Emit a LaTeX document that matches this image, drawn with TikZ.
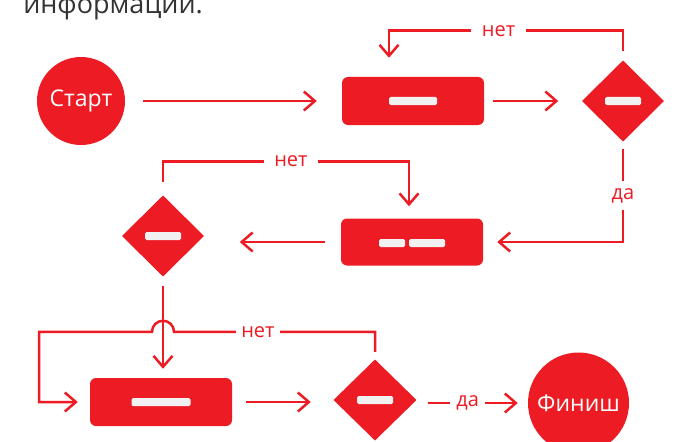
\documentclass[tikz,border=0pt]{standalone}
\usepackage{fontspec}
\setmainfont{Open Sans}
\usetikzlibrary{shapes.geometric,arrows.meta}
\definecolor{flowred}{HTML}{ED1C24}
\definecolor{barfill}{HTML}{F1F1F2}
\definecolor{headtext}{HTML}{333333}

\begin{document}
\begin{tikzpicture}[x=1pt, y=-1pt, line width=2.5pt,
    flow/.style={draw=flowred, -{Straight Barb[length=11pt,width=19pt]}},
    term/.style={circle, fill=flowred, text=white, inner sep=0pt, font=\fontsize{23}{27}\selectfont},
    proc/.style={rectangle, rounded corners=6pt, fill=flowred, minimum width=142pt, minimum height=48pt},
    cond/.style={diamond, fill=flowred, inner sep=0pt, minimum width=83pt, minimum height=82pt},
    bar/.style={rectangle, fill=barfill, rounded corners=1.5pt, inner sep=0pt, minimum height=8pt},
    lbl/.style={fill=white, text=flowred, inner xsep=10.5pt, inner ysep=6pt, font=\fontsize{20}{24}\selectfont}]
            \useasboundingbox (0,0) rectangle (676,441);
            \clip (0,0) rectangle (676,441);
            \node[anchor=base west, text=headtext, inner sep=0pt, font=\fontsize{27}{32}\selectfont] (head) at (22,13.5) {информации.};

            \node[term, minimum size=88pt] (start) at (81,101) {Старт};
            \node[proc] (box1) at (413,101) {};
            \node[bar, minimum width=48pt] (bar1) at (box1) {};
            \node[cond] (dec1) at (623,101) {};
            \node[bar, minimum width=36pt] (bar2) at (dec1) {};
            \node[proc, minimum height=47pt] (box2) at (412,242) {};
            \node[bar, minimum width=26pt] (bar3) at (392,243) {};
            \node[bar, minimum width=36pt] (bar4) at (427,243) {};
            \node[cond] (dec2) at (163,236) {};
            \node[bar, minimum width=36pt] (bar5) at (dec2) {};
            \node[proc] (box3) at (161,402) {};
            \node[bar, minimum width=59pt] (bar6) at (box3) {};
            \node[cond, minimum width=84pt] (dec3) at (375,400) {};
            \node[bar, minimum width=36pt] (bar7) at (dec3) {};
            \node[term, minimum size=101pt] (fin) at (578.5,403) {Финиш};

            \draw[flow, shorten <=17pt, shorten >=24pt] (start) -- (box1);
            \draw[flow, shorten <=8pt, shorten >=22pt] (box1) -- (box1.east -| dec1.west);
            \draw[flow] ([yshift=8pt]dec1.north) -- ([yshift=28pt]dec1.north) -| node[lbl, pos=0.266]{нет} ([xshift=-24pt,yshift=18pt]box1.north);
            \draw[flow] ([yshift=-6pt]dec1.south) |- node[lbl, pos=0.25, inner xsep=4pt, inner ysep=7pt]{да} ([xshift=13pt]box2.east);
            \draw[flow, shorten <=15pt, shorten >=34pt] (box2.west) -- (box2.west -| dec2.east);
            \draw[flow] ([yshift=12pt]dec2.north) |- node[lbl, pos=0.76]{нет} ([xshift=-3pt,yshift=56pt]box2.north) -- ([xshift=-3pt,yshift=11pt]box2.north);
            \draw[flow, shorten <=8pt, shorten >=8pt] (dec2.south) -- (dec2.south |- box3.north);
            \coordinate (loop) at ([yshift=26pt]dec3.north);
            \coordinate (hop) at (loop -| dec2.south);
            \draw[flow] ([yshift=6pt]dec3.north) -- (loop) -- node[lbl, pos=0.5825, inner xsep=5pt]{нет} ([xshift=11pt]hop) arc (0:-180:11) -- ++(-113,0) |- ([xshift=-11pt]box3.west);
            \draw[flow, shorten <=13pt, shorten >=21pt] (box3.east) -- (box3.east -| dec3.west);
            \draw[flow, shorten <=10pt, shorten >=9pt] (dec3.east |- fin) -- node[lbl, pos=0.455, inner xsep=6pt]{да} (fin.west);
        \end{tikzpicture}
\end{document}
